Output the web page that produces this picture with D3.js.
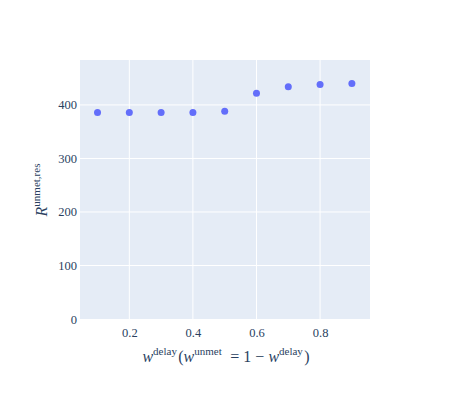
<!DOCTYPE html>
<html>
<head>
<meta charset="utf-8">
<script src="https://cdn.jsdelivr.net/npm/d3@7"></script>
<style>
  html, body { margin: 0; padding: 0; background: #fff; }
  svg { display: block; }
</style>
</head>
<body>
<div id="chart"></div>
<script>
const xValues = [0.1, 0.2, 0.3, 0.4, 0.5, 0.6, 0.7, 0.8, 0.9];
const yValues = [386, 386, 386, 386, 388, 422, 434, 438, 440];
const xTicks = [0.2, 0.4, 0.6, 0.8];
const yTicks = [0, 100, 200, 300, 400];

const W = 450, H = 400;
const plot = { left: 80, right: 370, top: 60, bottom: 319 };
const tickFont = "'Liberation Serif', 'Times New Roman', serif";
const textColor = "#2a3f5f";

const svg = d3.select("#chart").append("svg")
  .attr("width", W).attr("height", H);

const x = d3.scaleLinear().domain([0.0449, 0.957]).range([plot.left, plot.right]);
const y = d3.scaleLinear().domain([0, 484]).range([plot.bottom, plot.top]);

svg.append("rect")
  .attr("x", plot.left).attr("y", plot.top)
  .attr("width", plot.right - plot.left).attr("height", plot.bottom - plot.top)
  .attr("fill", "#e5ecf6");

// grid lines
svg.append("g").selectAll("line").data(xTicks).join("line")
  .attr("x1", d => x(d)).attr("x2", d => x(d))
  .attr("y1", plot.top).attr("y2", plot.bottom)
  .attr("stroke", "#fff").attr("stroke-width", 1);
svg.append("g").selectAll("line").data(yTicks.filter(d => d > 0)).join("line")
  .attr("x1", plot.left).attr("x2", plot.right)
  .attr("y1", d => y(d)).attr("y2", d => y(d))
  .attr("stroke", "#fff").attr("stroke-width", 1);

// axes with d3 axis generators (labels only)
const xAxis = svg.append("g")
  .attr("transform", `translate(0,${plot.bottom})`)
  .call(d3.axisBottom(x).tickValues(xTicks).tickFormat(d3.format(".1f")).tickSize(0).tickPadding(9));
const yAxis = svg.append("g")
  .attr("transform", `translate(${plot.left},0)`)
  .call(d3.axisLeft(y).tickValues(yTicks).tickFormat(d3.format("d")).tickSize(0).tickPadding(3));
[xAxis, yAxis].forEach(g => {
  g.select(".domain").remove();
  g.selectAll("text")
    .attr("fill", textColor)
    .style("font-family", tickFont)
    .style("font-size", "12.5px");
});

// points
svg.append("g").selectAll("circle").data(xValues).join("circle")
  .attr("cx", d => x(d))
  .attr("cy", (d, i) => y(yValues[i]))
  .attr("r", 3.5)
  .attr("fill", "#636efa");

// x axis title: w^delay (w^unmet = 1 − w^delay)
const xt = svg.append("text")
  .attr("x", 226).attr("y", 362)
  .attr("text-anchor", "middle")
  .attr("fill", textColor)
  .style("font-family", tickFont)
  .style("font-size", "16px");
function sup(t, s) {
  t.append("tspan").attr("dy", -7).style("font-size", "11px").text(s);
  t.append("tspan").attr("dy", 7).text("\u200A");
}
xt.append("tspan").style("font-style", "italic").text("w");
sup(xt, "delay");
xt.append("tspan").text("(");
xt.append("tspan").style("font-style", "italic").text("w");
sup(xt, "unmet");
xt.append("tspan").text(" \u2009= 1 \u2212 ");
xt.append("tspan").style("font-style", "italic").text("w");
sup(xt, "delay");
xt.append("tspan").text(")");

// y axis title: R^{unmet,res}
const yt = svg.append("text")
  .attr("transform", "translate(47,190) rotate(-90)")
  .attr("text-anchor", "middle")
  .attr("fill", textColor)
  .style("font-family", tickFont)
  .style("font-size", "16px");
yt.append("tspan").style("font-style", "italic").text("R");
yt.append("tspan").attr("dy", -7).style("font-size", "11px").text("unmet,res");
</script>
</body>
</html>
